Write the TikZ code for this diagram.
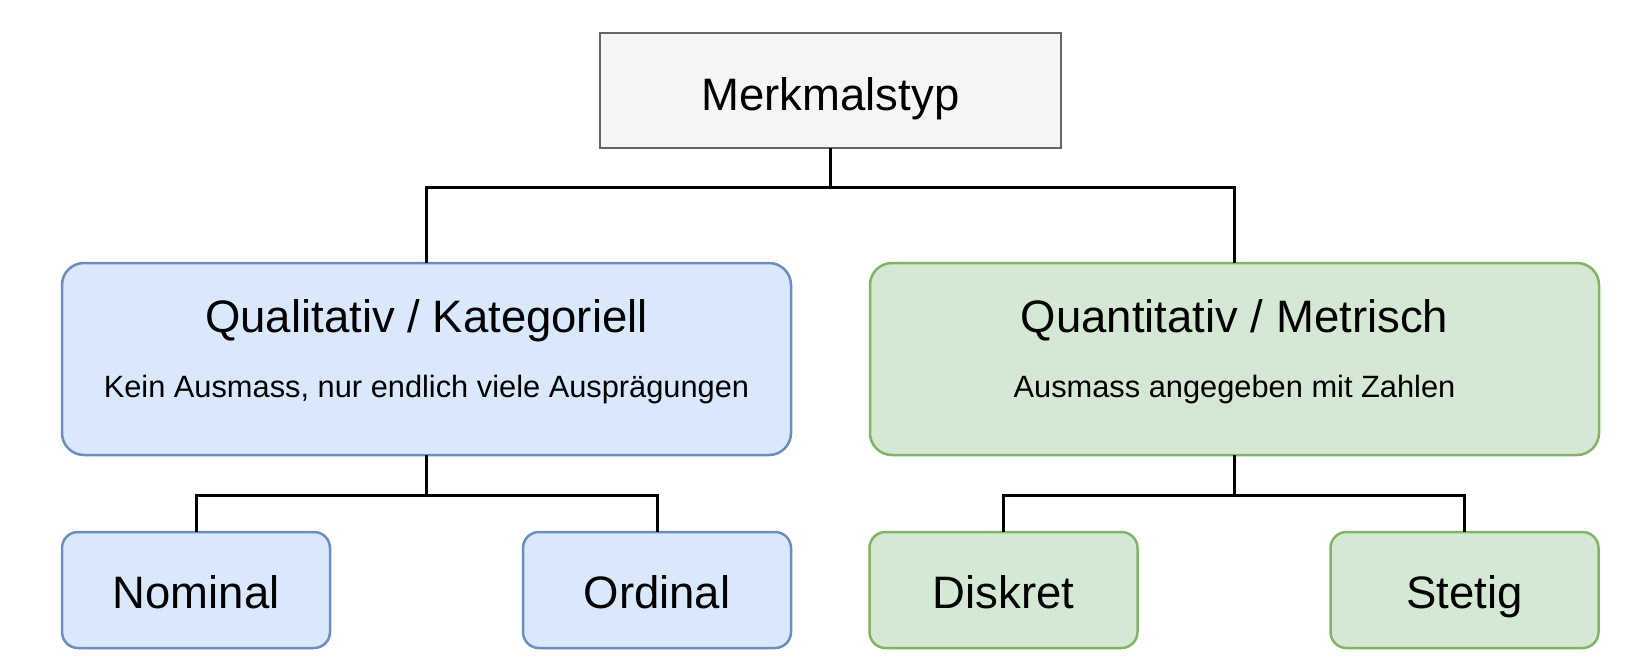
\documentclass[tikz,border=0pt]{standalone}
\usepackage{fontspec}
\setmainfont{Liberation Sans}
\definecolor{rootfill}{HTML}{F5F5F5}
\definecolor{rootdraw}{HTML}{666666}
\definecolor{bluefill}{HTML}{DAE8FC}
\definecolor{bluedraw}{HTML}{6C8EBF}
\definecolor{greenfill}{HTML}{D5E8D4}
\definecolor{greendraw}{HTML}{82B366}
\begin{document}
\begin{tikzpicture}[x=1pt,y=-1pt,
  box/.style={draw, line width=2.5pt, inner sep=0pt, outer sep=0pt},
  rootbox/.style={box, fill=rootfill, draw=rootdraw, minimum width=461pt, minimum height=115pt},
  bigblue/.style={box, fill=bluefill, draw=bluedraw, rounded corners=22pt, minimum width=729pt, minimum height=192pt},
  biggreen/.style={box, fill=greenfill, draw=greendraw, rounded corners=22pt, minimum width=729pt, minimum height=192pt},
  smallblue/.style={box, fill=bluefill, draw=bluedraw, rounded corners=16pt, minimum width=268pt, minimum height=116pt},
  smallgreen/.style={box, fill=greenfill, draw=greendraw, rounded corners=16pt, minimum width=268pt, minimum height=116pt},
  bigtext/.style={anchor=base, inner sep=0pt, font=\fontsize{45.5}{54}\selectfont},
  subtext/.style={anchor=base, inner sep=0pt, font=\fontsize{30.8}{36}\selectfont},
  link/.style={draw=black, line width=3pt}
]
\useasboundingbox[fill=white] (0,0) rectangle (1628,670);

% boxes
\node[rootbox] (root) at (830.5,90.5) {};
\node[bigblue] (qual) at (426.5,359) {};
\node[biggreen] (quant) at (1234.5,359) {};
\node[smallblue] (nom) at (196,590) {};
\node[smallblue] (ord) at (657,590) {};
\node[smallgreen] (dis) at (1003.5,590) {};
\node[smallgreen] (ste) at (1464.5,590) {};

% texts
\node[bigtext] (rootT) at (830.5,110) {Merkmalstyp};
\node[bigtext] (qualT) at (426.5,332) {Qualitativ / Kategoriell};
\node[subtext] (qualS) at (426.5,397) {Kein Ausmass, nur endlich viele Ausprägungen};
\node[bigtext] (quantT) at (1234.5,332) {Quantitativ / Metrisch};
\node[subtext] (quantS) at (1234.5,397) {Ausmass angegeben mit Zahlen};
\node[bigtext] (nomT) at (196,608) {Nominal};
\node[bigtext] (ordT) at (657,608) {Ordinal};
\node[bigtext] (disT) at (1003.5,608) {Diskret};
\node[bigtext] (steT) at (1464.5,608) {Stetig};

% junctions
\coordinate (j0) at (830.5,187);
\coordinate (j1) at (426.5,495);
\coordinate (j2) at (1234.5,495);

% connectors
\draw[link] (root.south) -- (j0);
\draw[link] (qual.north) |- (j0) -| (quant.north);
\draw[link] (qual.south) -- (j1);
\draw[link] (nom.north) |- (j1) -| (ord.north);
\draw[link] (quant.south) -- (j2);
\draw[link] (dis.north) |- (j2) -| (ste.north);
\end{tikzpicture}
\end{document}
